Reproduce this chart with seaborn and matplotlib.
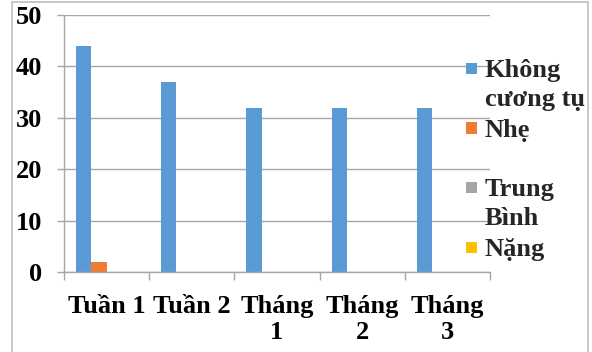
import textwrap

import matplotlib
matplotlib.use("Agg")
import matplotlib.pyplot as plt
from matplotlib.patches import Patch, Rectangle
from matplotlib.legend_handler import HandlerPatch
import pandas as pd
import seaborn as sns

# Data
categories = ["Tuần 1", "Tuần 2", "Tháng 1", "Tháng 2", "Tháng 3"]
series = ["Không cương tụ", "Nhẹ", "Trung Bình", "Nặng"]
khong_cuong_tu = [44, 37, 32, 32, 32]
nhe = [2, 0, 0, 0, 0]
trung_binh = [0, 0, 0, 0, 0]
nang = [0, 0, 0, 0, 0]
y_ticks = [0, 10, 20, 30, 40, 50]

colors = ["#5B9BD5", "#ED7D31", "#A5A5A5", "#FFC000"]
grid_color = "#A6A6A6"

values = [khong_cuong_tu, nhe, trung_binh, nang]
df = pd.DataFrame({
    "category": [c for s in series for c in categories],
    "series": [s for s in series for _ in categories],
    "value": [v for vals in values for v in vals],
})

sns.set_theme(style="white")
plt.rcParams["font.family"] = ["Liberation Serif", "DejaVu Serif"]
plt.rcParams["font.weight"] = "bold"
FS = 19

W, H = 592, 352
fig = plt.figure(figsize=(W / 100, H / 100), dpi=100)
ax = fig.add_axes([64 / W, 1 - 272 / H, (490 - 64) / W, (272 - 15) / H])

sns.barplot(data=df, x="category", y="value", hue="series",
            order=categories, hue_order=series, palette=colors,
            saturation=1, width=0.72, linewidth=0, errorbar=None,
            legend=False, ax=ax)

# Axes styling
ax.set_xlabel("")
ax.set_ylabel("")
ax.set_ylim(0, 50)
ax.set_yticks(y_ticks)
ax.set_yticklabels([str(t) for t in y_ticks], fontsize=FS, fontweight="bold")
ax.set_xlim(-0.5, len(categories) - 0.5)
ax.set_xticks(range(len(categories)))
ax.set_xticklabels([textwrap.fill(c, 6) for c in categories],
                   fontsize=FS, fontweight="bold", linespacing=1.18)
ax.set_xticks([i - 0.5 for i in range(len(categories) + 1)], minor=True)

ax.yaxis.grid(True, color=grid_color, linewidth=1)
ax.xaxis.grid(False)
ax.set_axisbelow(True)
for side in ("top", "right"):
    ax.spines[side].set_visible(False)
for side in ("left", "bottom"):
    ax.spines[side].set_color(grid_color)
    ax.spines[side].set_linewidth(1)

ax.tick_params(axis="y", which="major", left=True, length=5, width=1,
               color=grid_color, pad=10.5, labelcolor="black")
ax.tick_params(axis="x", which="major", bottom=True, length=0, pad=16.5,
               labelcolor="black")
ax.tick_params(axis="x", which="minor", bottom=True, length=6, width=1,
               color=grid_color)

# Legend with small square keys aligned to the first line of each label
def wrap_label(name, width=8, lines=2):
    parts = textwrap.wrap(name, width)
    parts += [""] * (lines - len(parts))
    return "\n".join(parts)

def square_key(legend, orig_handle, xdescent, ydescent, width, height, fontsize):
    size = 0.42 * fontsize
    shift = getattr(orig_handle, "_key_shift", 0.0) * fontsize
    cy = -ydescent + height / 2 + shift
    return Rectangle((-xdescent + width - size, cy - size / 2), size, size)

handles = []
labels = []
for name, col in zip(series, colors):
    p = Patch(facecolor=col, edgecolor="none")
    lab = wrap_label(name)
    p._key_shift = 0.62 if "\n" in lab else 0.0
    handles.append(p)
    labels.append(lab)

leg = fig.legend(handles, labels, loc="upper left",
                 bbox_to_anchor=(465 / W, 1 - 59 / H),
                 frameon=False, prop={"size": FS, "weight": "bold"},
                 handlelength=0.44, handletextpad=0.3, borderpad=0,
                 labelspacing=0.3, borderaxespad=0,
                 handler_map={Patch: HandlerPatch(patch_func=square_key)})
for t in leg.get_texts():
    t.set_linespacing(1.32)

# Chart frame
fig.patches.append(Rectangle((12 / W, -0.05), (588 - 12) / W, 1.05 - 2 / H,
                             transform=fig.transFigure, fill=False,
                             edgecolor="#BDBDBD", linewidth=1.2))

fig.savefig("out.png", dpi=100)
